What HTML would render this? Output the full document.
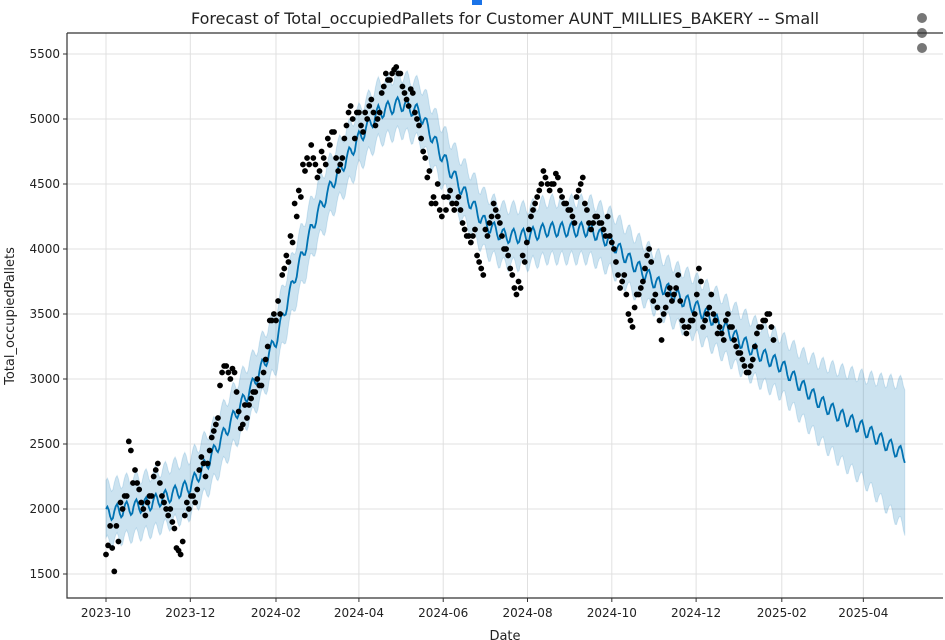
<!DOCTYPE html>
<html><head><meta charset="utf-8"><style>
body{margin:0;background:#fff;}
svg{display:block;font-family:"DejaVu Sans","Liberation Sans",sans-serif;}
</style></head><body>
<svg id="chart" width="945" height="640" viewBox="0 0 945 640">
<rect x="472" y="0" width="10" height="5" fill="#1a73e8"/>
<text x="505" y="24" font-size="16" text-anchor="middle" fill="#222">Forecast of Total_occupiedPallets for Customer AUNT_MILLIES_BAKERY -- Small</text>
<g fill="#777">
<circle cx="922" cy="18" r="5"/><circle cx="922" cy="33" r="5"/><circle cx="922" cy="48" r="5"/>
</g>
<g id="grid"></g>
<g id="band"></g>
<g id="line"></g>
<g id="dots"></g>
<g id="axes"></g>
<text x="14" y="316" font-size="13" text-anchor="middle" transform="rotate(-90 14 316)" fill="#222">Total_occupiedPallets</text>
<text x="505" y="640" font-size="13" text-anchor="middle" fill="#222">Date</text>
</svg>
<script>
const yTicks=[1500,2000,2500,3000,3500,4000,4500,5000,5500];
const xTickLabels=["2023-10","2023-12","2024-02","2024-04","2024-06","2024-08","2024-10","2024-12","2025-02","2025-04"];
const xTickDays=[0,61,123,183,244,305,366,427,489,548];
const knotDays=[0,14,31,45,61,75,92,106,123,137,152,166,183,197,213,227,244,258,274,288,305,319,336,350,366,380,397,411,427,441,458,472,489,503,517,531,548,562,578];
const knotYhat=[1960,2000,2040,2100,2180,2380,2700,2950,3300,3800,4250,4550,4850,5050,5120,5050,4700,4450,4200,4100,4100,4150,4150,4150,4050,3900,3750,3650,3550,3450,3300,3200,3100,2950,2820,2720,2620,2520,2410];
const knotHalf=[220,220,220,220,220,220,220,220,220,220,220,220,220,220,220,220,220,220,220,220,220,220,220,220,220,220,220,220,220,220,220,220,220,250,300,350,400,470,560];
const weekly=[40,55,25,-25,-55,-45,5];
const obsStep=3;
const obsVal=[1650,1870,1520,1750,2000,2100,2450,2300,2150,2000,2050,
2100,2300,2200,2050,1950,1900,1700,1650,1950,2000,
2100,2150,2400,2250,2450,2600,2700,3050,3100,3000,
3050,2750,2650,2700,2850,2900,2950,3050,3250,3450,
3450,3500,3850,3900,4050,4250,4400,4600,4650,4700,
4550,4750,4650,4800,4900,4600,4700,4950,5100,4850,
5050,4900,5000,5150,4950,5050,5250,5300,5350,5400,
5350,5200,5100,5200,5000,4850,4700,4600,4400,4500,
4250,4300,4450,4300,4400,4200,4100,4050,4150,3900,
3800,4100,4250,4300,4200,4000,3950,3800,3650,3700,
3900,4150,4300,4400,4500,4550,4450,4500,4550,4400,
4350,4300,4200,4450,4550,4300,4150,4250,4200,4150,
4250,4050,3900,3700,3800,3500,3400,3650,3700,3850,
4000,3600,3550,3300,3550,3700,3650,3800,3450,3350,
3450,3500,3850,3400,3500,3650,3450,3400,3300,3500,
3400,3250,3200,3100,3050,3150,3350,3400,3450,3500,3300];
const obsVal2=[1720,1700,1870,2050,2100,2520,2200,2200,2050,1950,2100,
2250,2350,2100,2000,2000,1850,1680,1750,2050,2100,
2050,2300,2350,2350,2550,2650,2950,3100,3050,3080,
2900,2620,2800,2800,2900,3000,2950,3150,3450,3500,
3600,3800,3950,4100,4350,4450,4650,4700,4800,4650,
4600,4700,4850,4900,4700,4650,4850,5050,5000,5050,
4950,5050,5100,5050,5000,5200,5350,5300,5380,5350,
5250,5150,5230,5050,4950,4750,4550,4350,4350,4300,
4400,4400,4350,4350,4300,4150,4100,4100,3950,3850,
4150,4200,4350,4250,4100,4000,3850,3700,3750,3950,
4050,4250,4350,4450,4600,4500,4500,4580,4450,4350,
4300,4250,4400,4500,4350,4200,4200,4250,4200,4100,
4100,4000,3800,3750,3650,3450,3550,3650,3750,3950,
3900,3650,3450,3500,3650,3600,3700,3600,3400,3400,
3450,3650,3750,3450,3550,3500,3350,3350,3450,3400,
3300,3200,3150,3050,3100,3250,3400,3450,3500,3400];

const X0=106,PXD=1.382,Y0=574,PXU=0.13,L=67,R=943,T=33,B=598;
const xs=d=>X0+d*PXD, ys=v=>Y0-(v-1500)*PXU;
const NS="http://www.w3.org/2000/svg";
function mk(tag,attrs,parent){const e=document.createElementNS(NS,tag);for(const k in attrs)e.setAttribute(k,attrs[k]);parent.appendChild(e);return e;}
function interp(arr,d){for(let i=0;i<knotDays.length-1;i++){if(d<=knotDays[i+1]){const t=(d-knotDays[i])/(knotDays[i+1]-knotDays[i]);return arr[i]+t*(arr[i+1]-arr[i]);}}return arr[arr.length-1];}
const grid=document.getElementById('grid'),axes=document.getElementById('axes');
yTicks.forEach(v=>{
 const g=mk('line',{x1:L,x2:R,y1:ys(v),y2:ys(v),stroke:'#e0e0e0','stroke-width':1},grid);
 
 const tk=mk('line',{x1:L-4,x2:L,y1:ys(v),y2:ys(v),stroke:'#333'},axes);
 
 const t=mk('text',{x:L-7,y:ys(v)+4,'font-size':12,'text-anchor':'end',fill:'#222'},axes);
 
 t.textContent=v;
});
xTickDays.forEach((d,i)=>{
 const g=mk('line',{x1:xs(d),x2:xs(d),y1:T,y2:B,stroke:'#e0e0e0','stroke-width':1},grid);
 
 const tk=mk('line',{x1:xs(d),x2:xs(d),y1:B,y2:B+4,stroke:'#333'},axes);
 
 const t=mk('text',{x:xs(d),y:B+19,'font-size':12,'text-anchor':'middle',fill:'#222'},axes);
 
 t.textContent=xTickLabels[i];
});
const frame=mk('path',{d:`M${L} ${T} V${B} H${R} M${L} ${T} H${R}`,stroke:'#333','stroke-width':1.2,fill:'none'},axes);

const last=knotDays[knotDays.length-1];
let up=[],lo=[],ln=[];
for(let d=0;d<=last;d++){const y=interp(knotYhat,d)+weekly[d%7],h=interp(knotHalf,d);
 ln.push(xs(d).toFixed(1)+','+ys(y).toFixed(1));up.push(xs(d).toFixed(1)+','+ys(y+h).toFixed(1));lo.push(xs(d).toFixed(1)+','+ys(y-h).toFixed(1));}
const band=mk('polygon',{points:up.concat(lo.reverse()).join(' '),fill:'#0072B2','fill-opacity':0.2,stroke:'#0072B2','stroke-opacity':0.15},document.getElementById('band'));

const pl=mk('polyline',{points:ln.join(' '),fill:'none',stroke:'#0072B2','stroke-width':1.8},document.getElementById('line'));

const dots=document.getElementById('dots');
obsVal.forEach((v,i)=>{const c=mk('circle',{cx:xs(i*obsStep),cy:ys(v),r:2.9,fill:'#000'},dots);
 });
obsVal2.forEach((v,i)=>{const c=mk('circle',{cx:xs(i*obsStep+1.5),cy:ys(v),r:2.9,fill:'#000'},dots);
 });
</script>
</body></html>
